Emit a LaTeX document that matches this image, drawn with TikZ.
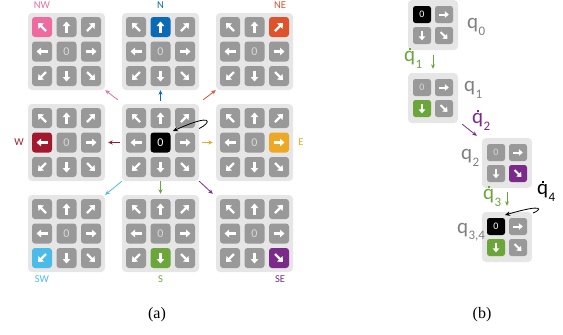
\documentclass[tikz,border=0pt]{standalone}
\usepackage{fontspec}
\setmainfont{Liberation Serif}
\setsansfont{Carlito}
\usetikzlibrary{arrows.meta,calc}

\definecolor{padbg}{HTML}{E6E6E6}
\definecolor{cellgray}{HTML}{999999}
\definecolor{zerogray}{HTML}{D9D9D9}
\definecolor{labgray}{HTML}{7F7F7F}
\definecolor{cNW}{HTML}{EF6B9F}
\definecolor{cN}{HTML}{0B6AB5}
\definecolor{cNE}{HTML}{E0522A}
\definecolor{cW}{HTML}{A3182F}
\definecolor{cE}{HTML}{EDA923}
\definecolor{cSW}{HTML}{4BBCE9}
\definecolor{cS}{HTML}{6BA63A}
\definecolor{cSE}{HTML}{7B2A8C}

\tikzset{
  pad/.style={fill=padbg, rounded corners=4pt, draw=none, inner sep=0pt},
  keyarrow/.style={white, line width=2.3pt, -{Triangle[width=7.5pt,length=4.5pt]}},
  keyarrowsm/.style={white, line width=2pt, -{Triangle[width=6.5pt,length=4pt]}},
  moveto/.style={line width=0.8pt, -{Stealth[length=4.5pt,width=4pt]}},
  loopto/.style={line width=0.8pt, black, -{Stealth[length=5pt,width=4.5pt]}},
  dirlab/.style={font=\sffamily\fontsize{10.5}{10.5}\selectfont, inner sep=0pt},
  qlab/.style={font=\sffamily\fontsize{21}{21}\selectfont, text=labgray, inner sep=0pt},
  dqlab/.style={font=\sffamily\fontsize{21}{21}\selectfont, inner sep=0pt},
  caption/.style={font=\fontsize{16}{16}\selectfont, inner sep=0pt},
}

% q with a subscript, and q with a dot and a subscript
\newcommand\qsub[1]{q\kern0.02em\raisebox{-0.3em}{\fontsize{13}{13}\selectfont #1}}
\newcommand\qdsub[1]{\ooalign{q\cr\hidewidth\raisebox{0.56em}{\rule{1.9pt}{1.9pt}}\hidewidth\cr}\kern0.02em\raisebox{-0.3em}{\fontsize{13}{13}\selectfont #1}}

% 3x3 key pad: #1,#2 top-left corner, #3 name, #4 lit key (1..9), #5 its colour
\newcommand\padA[5]{%
  \node[pad, minimum width=77pt, minimum height=77pt] (#3) at (#1+38.5,#2+38.5) {};
  \foreach \j in {0,1,2}{\foreach \i in {0,1,2}{%
    \pgfmathtruncatemacro\k{3*\j+\i+1}%
    \ifnum\k=#4\relax\def\kc{#5}\else\def\kc{cellgray}\fi
    \pgfmathsetmacro\cx{#1+14+24.5*\i}%
    \pgfmathsetmacro\cy{#2+14+24.5*\j}%
    \fill[\kc, rounded corners=3pt] ({\cx-10},{\cy-10}) rectangle ({\cx+10},{\cy+10});
    \ifnum\k=5\relax
      \ifnum#4=5\relax\def\zc{white}\else\def\zc{zerogray}\fi
      \node[text=\zc, font=\sffamily\fontsize{12}{12}\selectfont, inner sep=0pt] at (\cx,\cy) {0};
    \else
      \ifodd\k\relax\def\len{4}\else\def\len{5.5}\fi
      \draw[keyarrow] ({\cx-\len*(\i-1)},{\cy-\len*(\j-1)}) -- ({\cx+\len*(\i-1)},{\cy+\len*(\j-1)});
    \fi
  }}%
}

% 2x2 key pad: #1,#2 top-left corner, #3 name, #4/#6 lit keys (1..4), #5/#7 their colours
\newcommand\padB[7]{%
  \node[pad, minimum width=50pt, minimum height=50pt] (#3) at (#1+25,#2+25) {};
  \foreach \j in {0,1}{\foreach \i in {0,1}{%
    \pgfmathtruncatemacro\k{2*\j+\i+1}%
    \def\kc{cellgray}%
    \ifnum\k=#4\relax\def\kc{#5}\fi
    \ifnum\k=#6\relax\def\kc{#7}\fi
    \pgfmathsetmacro\cx{#1+14+22*\i}%
    \pgfmathsetmacro\cy{#2+14.5+21*\j}%
    \fill[\kc, rounded corners=2.5pt] ({\cx-9},{\cy-8.5}) rectangle ({\cx+9},{\cy+8.5});
    \ifnum\k=1\relax
      \ifnum#4=1\relax\def\zc{white}\else\def\zc{zerogray}\fi
      \node[text=\zc, font=\sffamily\fontsize{10}{10}\selectfont, inner sep=0pt] at (\cx,\cy) {0};
    \else
      \ifnum\k=4\relax\def\len{3.5}\else\def\len{4.8}\fi
      \draw[keyarrowsm] ({\cx-\len*\i},{\cy-\len*\j}) -- ({\cx+\len*\i},{\cy+\len*\j});
    \fi
  }}%
}

\begin{document}
\begin{tikzpicture}[x=1pt, y=-1pt]
\useasboundingbox (0,0) rectangle (563,335);

% ---------- (a) the nine moves ----------
\padA{28}{13}{nw}{1}{cNW}
\padA{122}{13}{n}{2}{cN}
\padA{216}{13}{ne}{3}{cNE}
\padA{28}{104}{w}{4}{cW}
\padA{122}{104}{c}{5}{black}
\padA{216}{104}{e}{6}{cE}
\padA{28}{195}{sw}{7}{cSW}
\padA{122}{195}{s}{8}{cS}
\padA{216}{195}{se}{9}{cSE}

\node[dirlab, text=cNW] (lnw) at (42,5.5) {NW};
\node[dirlab, text=cN]  (ln)  at (160.5,5.5) {N};
\node[dirlab, text=cNE] (lne) at (280,5.5) {NE};
\node[dirlab, text=cW]  (lw)  at (19,142.5) {W};
\node[dirlab, text=cE]  (le)  at (301,142.5) {E};
\node[dirlab, text=cSW] (lsw) at (42,279) {SW};
\node[dirlab, text=cS]  (ls)  at (160.5,279) {S};
\node[dirlab, text=cSE] (lse) at (280,279) {SE};

\draw[moveto, cNW] ($(c.north west)+(-4,-4)$) -- (nw.south east);
\draw[moveto, cN]  ($(c.north)+(0,-3)$) -- (n.south);
\draw[moveto, cNE] ($(c.north east)+(4,-4)$) -- (ne.south west);
\draw[moveto, cW]  ($(c.west)+(-2,0)$) -- ($(w.east)+(3,0)$);
\draw[moveto, cE]  ($(c.east)+(3,0)$) -- ($(e.west)+(-3,0)$);
\draw[moveto, cSW] (c.south west) -- (sw.north east);
\draw[moveto, cS]  (c.south) -- ($(s.north)+(0,-1)$);
\draw[moveto, cSE] (c.south east) -- ($(se.north west)+(-3,-1)$);

% staying put: the loop back onto the centre key
\coordinate (cz) at (173,131);
\draw[loopto] ($(c.east)+(0,-14)$) .. controls (211,123) and (215,112) .. (cz);

% ---------- (b) a sequence of moves ----------
\padB{408}{0}{g0}{1}{black}{0}{black}
\padB{408}{73}{g1}{3}{cS}{0}{black}
\padB{482}{138}{g2}{4}{cSE}{0}{black}
\padB{482}{212}{g3}{1}{black}{3}{cS}

\node[qlab, anchor=west] (q0) at (467,27) {\qsub{0}};
\node[qlab, anchor=west] (q1) at (464,90) {\qsub{1}};
\node[qlab, anchor=west] (q2) at (461,158) {\qsub{2}};
\node[qlab, anchor=west] (q3) at (457,232) {\qsub{3,4}};

\node[dqlab, text=cS,  anchor=west] (d1) at (404,60) {\qdsub{1}};
\node[dqlab, text=cSE, anchor=west] (d2) at (472,122) {\qdsub{2}};
\node[dqlab, text=cS,  anchor=west] (d3) at (483,198) {\qdsub{3}};
\node[dqlab, text=black, anchor=west] (d4) at (537,193) {\qdsub{4}};

\draw[moveto, cS]  ($(g0.south)+(0,5)$) -- ($(g1.north)+(0,-4)$);
\draw[moveto, cSE] ($(g1.south east)+(4,1)$) -- ($(g2.north west)+(-5,-2)$);
\draw[moveto, cS]  ($(g2.south)+(0,4)$) -- ($(g3.north)+(0,-6)$);

\coordinate (gz) at (505,215);
\draw[loopto] (533,213) .. controls (541,210) and (546,203) .. (gz);

% ---------- captions ----------
\node[caption] (ca) at (157,315) {(a)};
\node[caption] (cb) at (482,315) {(b)};
\end{tikzpicture}
\end{document}
